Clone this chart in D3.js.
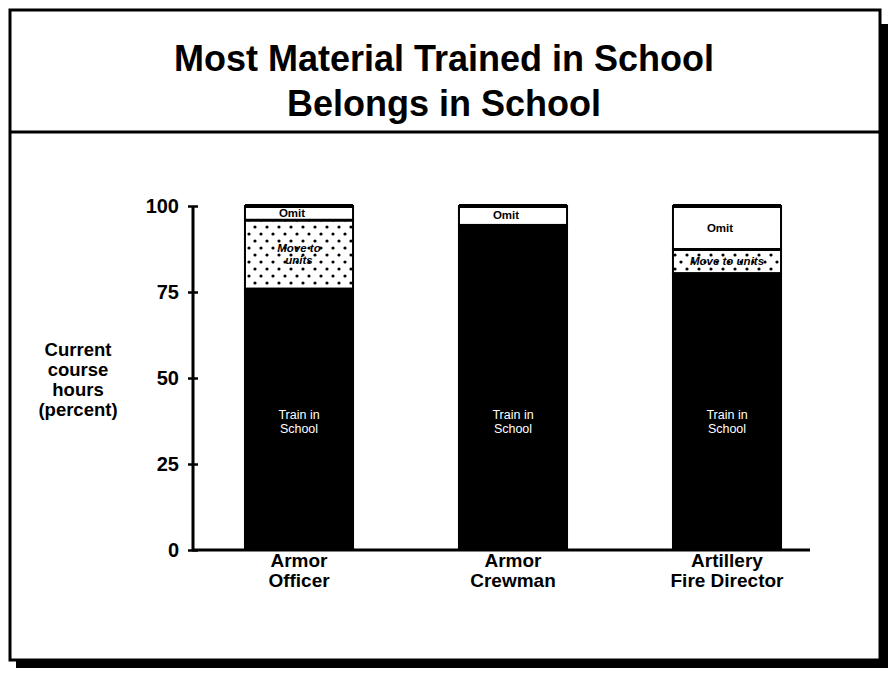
<!DOCTYPE html>
<html>
<head>
<meta charset="utf-8">
<script src="https://cdn.jsdelivr.net/npm/d3@7"></script>
<style>
  html, body { margin: 0; padding: 0; background: #fff; }
  svg { display: block; font-family: "Liberation Sans", Arial, Helvetica, sans-serif; }
</style>
</head>
<body>
<div id="chart"></div>
<script>
// categories (two-line labels) and stacked series, percent of current course hours
const categories = ["Armor Officer", "Armor Crewman", "Artillery Fire Director"];
const categoryLines = [["Armor", "Officer"], ["Armor", "Crewman"], ["Artillery", "Fire Director"]];
const trainInSchool = [76, 94.5, 80.5];
const moveToUnits = [20, 0, 7];
const omit = [4, 5.5, 12.5];
const yTicks = [0, 25, 50, 75, 100];
const titleLines = ["Most Material Trained in School", "Belongs in School"];
const yTitleLines = ["Current", "course", "hours", "(percent)"];

const width = 888;
const height = 676;

const svg = d3.select("#chart")
  .append("svg")
  .attr("width", width)
  .attr("height", height);

svg.append("rect").attr("width", width).attr("height", height).attr("fill", "#fff");

// dotted fill for "move to units"
const defs = svg.append("defs");
const pat = defs.append("pattern")
  .attr("id", "dots")
  .attr("patternUnits", "userSpaceOnUse")
  .attr("width", 12)
  .attr("height", 14);
pat.append("rect").attr("width", 12).attr("height", 14).attr("fill", "#fff");
pat.append("circle").attr("cx", 3).attr("cy", 3).attr("r", 1.6).attr("fill", "#000");
pat.append("circle").attr("cx", 9).attr("cy", 10).attr("r", 1.6).attr("fill", "#000");

// frame with drop shadow
svg.append("rect").attr("x", 16).attr("y", 24).attr("width", 872).attr("height", 644).attr("fill", "#000");
svg.append("rect")
  .attr("x", 10).attr("y", 10).attr("width", 870).attr("height", 650)
  .attr("fill", "#fff").attr("stroke", "#000").attr("stroke-width", 3);
svg.append("line")
  .attr("x1", 10).attr("x2", 880).attr("y1", 132).attr("y2", 132)
  .attr("stroke", "#000").attr("stroke-width", 3);

// title
svg.append("g")
  .selectAll("text")
  .data(titleLines)
  .join("text")
  .attr("x", 444)
  .attr("y", (d, i) => 71 + i * 45)
  .attr("text-anchor", "middle")
  .attr("font-size", 36)
  .attr("font-weight", 700)
  .text((d) => d);

const x = d3.scaleBand()
  .domain(categories)
  .range([192, 834])
  .paddingInner(0.495)
  .paddingOuter(0.2475);

const y = d3.scaleLinear().domain([0, 100]).range([550, 206]);

// stacked data
const rows = categories.map((c, i) => ({
  cat: c,
  train: trainInSchool[i],
  move: moveToUnits[i],
  omit: omit[i],
}));
const stack = d3.stack().keys(["train", "move", "omit"])(rows);
const fills = { train: "#000", move: "url(#dots)", omit: "#fff" };

const gBars = svg.append("g");
stack.forEach((layer) => {
  const segs = layer.filter((d) => d[1] - d[0] > 0);
  gBars.append("g")
    .selectAll("rect")
    .data(segs)
    .join("rect")
    .attr("x", (d) => x(d.data.cat))
    .attr("width", x.bandwidth())
    .attr("y", (d) => y(d[1]))
    .attr("height", (d) => y(d[0]) - y(d[1]))
    .attr("fill", fills[layer.key])
    .attr("stroke", "#000")
    .attr("stroke-width", 2);
  // heavier rule at the top of each segment
  gBars.append("g")
    .selectAll("line")
    .data(segs)
    .join("line")
    .attr("x1", (d) => x(d.data.cat))
    .attr("x2", (d) => x(d.data.cat) + x.bandwidth())
    .attr("y1", (d) => y(d[1]))
    .attr("y2", (d) => y(d[1]))
    .attr("stroke", "#000")
    .attr("stroke-width", 4);
});

// segment labels
const gSeg = svg.append("g");
rows.forEach((r, i) => {
  const cx = x(r.cat) + x.bandwidth() / 2;
  gSeg.append("text")
    .attr("text-anchor", "middle")
    .attr("font-size", 12.5)
    .attr("fill", "#fff")
    .selectAll("tspan")
    .data(["Train in", "School"])
    .join("tspan")
    .attr("x", cx)
    .attr("y", (d, k) => 419 + k * 14)
    .text((d) => d);

  const omitMid = (y(r.train + r.move) + y(r.train + r.move + r.omit)) / 2;
  gSeg.append("text")
    .attr("x", cx - 7)
    .attr("y", omitMid + 4)
    .attr("text-anchor", "middle")
    .attr("font-size", 11.5)
    .attr("font-weight", 700)
    .text("Omit");

  if (r.move > 0) {
    const moveMid = (y(r.train) + y(r.train + r.move)) / 2;
    const lines = r.move > 10 ? ["Move to", "units"] : ["Move to units"];
    gSeg.append("text")
      .attr("text-anchor", "middle")
      .attr("font-size", 11.5)
      .attr("font-weight", 700)
      .attr("font-style", "italic")
      .selectAll("tspan")
      .data(lines)
      .join("tspan")
      .attr("x", cx)
      .attr("y", (d, k) => moveMid + 4 + (k - (lines.length - 1) / 2) * 12)
      .text((d) => d);
  }
});

// y axis
const yAxis = svg.append("g")
  .attr("transform", "translate(193,0)")
  .call(d3.axisLeft(y).tickValues(yTicks).tickSize(5).tickPadding(9));
yAxis.select(".domain").remove();
yAxis.selectAll(".tick line").attr("x1", -5).attr("x2", 5).attr("stroke-width", 2.5);
yAxis.selectAll(".tick text")
  .attr("font-size", 20)
  .attr("font-weight", 700)
  .attr("font-family", "Liberation Sans, Arial, sans-serif")
  .attr("fill", "#000");
svg.append("line")
  .attr("x1", 193).attr("x2", 193).attr("y1", y(100)).attr("y2", y(0))
  .attr("stroke", "#000").attr("stroke-width", 3);
svg.append("line")
  .attr("x1", 192).attr("x2", 810).attr("y1", y(0)).attr("y2", y(0))
  .attr("stroke", "#000").attr("stroke-width", 3);

// x labels
svg.append("g")
  .selectAll("text")
  .data(categories)
  .join("text")
  .attr("text-anchor", "middle")
  .attr("font-size", 19)
  .attr("font-weight", 700)
  .each(function (d, i) {
    d3.select(this)
      .selectAll("tspan")
      .data(categoryLines[i])
      .join("tspan")
      .attr("x", x(d) + x.bandwidth() / 2)
      .attr("y", (t, k) => 567 + k * 20)
      .text((t) => t);
  });

// y title
svg.append("text")
  .attr("text-anchor", "middle")
  .attr("font-size", 18.5)
  .attr("font-weight", 700)
  .selectAll("tspan")
  .data(yTitleLines)
  .join("tspan")
  .attr("x", 78)
  .attr("y", (d, i) => 356 + i * 20)
  .text((d) => d);
</script>
</body>
</html>
